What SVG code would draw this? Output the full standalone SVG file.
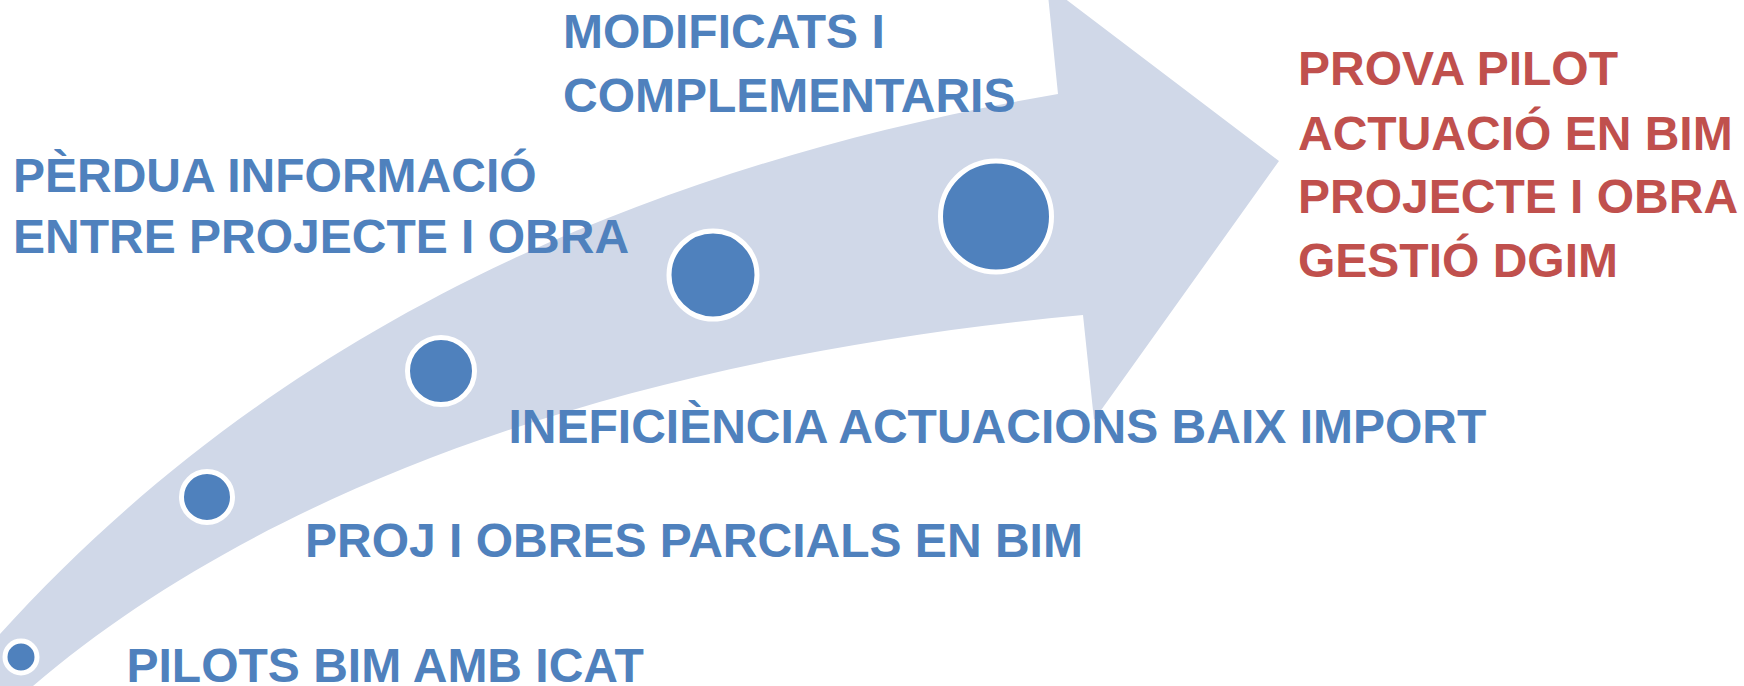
<svg xmlns="http://www.w3.org/2000/svg" width="1744" height="686" viewBox="0 0 1744 686">
<style>
.t{font-family:"Liberation Sans",Arial,sans-serif;font-weight:bold;font-size:48px}
.b{fill:#4F81BD}
.r{fill:#C0504D}
.dot{fill:#4F81BD;stroke:#FFFFFF;stroke-width:5}
</style>
<rect width="1744" height="686" fill="#FFFFFF"/>
<g id="connectors">
<path id="arrow" d="M 0 634 C 230 380 560 180 1058 94 L 1047 -15 L 1279 161 L 1094 420 L 1083 315 C 600 360 250 500 33 686 L 0 686 Z" fill="#D0D8E8"/>
</g>
<g id="step1">
<circle class="dot" cx="21" cy="657" r="16"/>
<text class="t b" x="126.5" y="681.7">PILOTS BIM AMB ICAT</text>
</g>
<g id="step2">
<circle class="dot" cx="207" cy="497" r="25.5"/>
<text class="t b" x="305" y="556.7">PROJ I OBRES PARCIALS EN BIM</text>
</g>
<g id="step3">
<circle class="dot" cx="441" cy="371" r="33.5"/>
<text class="t b" x="508.5" y="443.3">INEFICIÈNCIA ACTUACIONS BAIX IMPORT</text>
</g>
<g id="step4">
<circle class="dot" cx="713" cy="275" r="44"/>
<text class="t b" x="13" y="191.7">PÈRDUA INFORMACIÓ</text>
<text class="t b" x="13" y="253.3">ENTRE PROJECTE I OBRA</text>
</g>
<g id="step5">
<circle class="dot" cx="996" cy="216.5" r="55.5"/>
<text class="t b" x="563" y="48.3">MODIFICATS I</text>
<text class="t b" x="563" y="111.7">COMPLEMENTARIS</text>
</g>
<g id="goal">
<text class="t r" x="1298" y="85">PROVA PILOT</text>
<text class="t r" x="1298" y="150">ACTUACIÓ EN BIM</text>
<text class="t r" x="1298" y="213.3">PROJECTE I OBRA</text>
<text class="t r" x="1298" y="276.7">GESTIÓ DGIM</text>
</g>
</svg>
